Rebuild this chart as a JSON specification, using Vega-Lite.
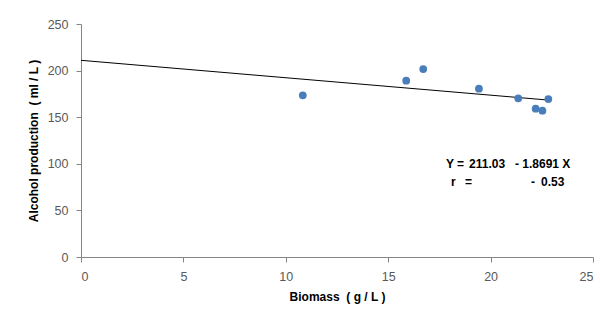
{
  "$schema": "https://vega.github.io/schema/vega-lite/v6.json",
  "width": 512,
  "height": 233,
  "autosize": {"type": "none"},
  "padding": {"left": 81, "top": 24, "right": 7, "bottom": 68},
  "background": "white",
  "config": {
    "view": {"stroke": null},
    "font": "Liberation Sans",
    "axis": {
      "grid": false,
      "domainColor": "#868686",
      "tickColor": "#868686",
      "tickSize": 5,
      "labelColor": "#595959",
      "labelFont": "Liberation Sans",
      "labelFontSize": 12.5,
      "titleFont": "Liberation Sans",
      "titleFontSize": 12,
      "titleFontWeight": "bold",
      "titleColor": "#000000"
    }
  },
  "datasets": {
    "points": [
      {"biomass": 10.83, "alcohol": 173.5},
      {"biomass": 15.88, "alcohol": 189.2},
      {"biomass": 16.71, "alcohol": 201.7},
      {"biomass": 19.43, "alcohol": 180.6},
      {"biomass": 21.35, "alcohol": 170.3},
      {"biomass": 22.2, "alcohol": 159.1},
      {"biomass": 22.53, "alcohol": 157.0},
      {"biomass": 22.82, "alcohol": 169.5}
    ],
    "trend": [
      {"biomass": 0, "alcohol": 211.03},
      {"biomass": 22.85, "alcohol": 168.32}
    ],
    "notes": [
      {"biomass": 17.82, "alcohol": 99.8, "label": "Y ="},
      {"biomass": 18.95, "alcohol": 99.8, "label": "211.03"},
      {"biomass": 21.19, "alcohol": 99.8, "label": "- 1.8691 X"},
      {"biomass": 18.07, "alcohol": 80.2, "label": "r"},
      {"biomass": 18.75, "alcohol": 80.2, "label": "="},
      {"biomass": 21.97, "alcohol": 80.2, "label": "-"},
      {"biomass": 22.46, "alcohol": 80.2, "label": "0.53"}
    ]
  },
  "layer": [
    {
      "data": {"name": "trend"},
      "mark": {"type": "line", "color": "#000000", "strokeWidth": 1},
      "encoding": {
        "x": {
          "field": "biomass", "type": "quantitative",
          "scale": {"domain": [0, 25], "nice": false},
          "axis": {"values": [0, 5, 10, 15, 20, 25], "title": "Biomass \u00a0( g / L )", "labelPadding": 8, "titlePadding": 9}
        },
        "y": {
          "field": "alcohol", "type": "quantitative",
          "scale": {"domain": [0, 250], "nice": false},
          "axis": {"values": [0, 50, 100, 150, 200, 250], "title": "Alcohol production \u00a0( ml / L )", "labelPadding": 8, "titlePadding": 7}
        }
      }
    },
    {
      "data": {"name": "points"},
      "mark": {"type": "circle", "color": "#4a7ebb", "opacity": 1, "size": 60},
      "encoding": {
        "x": {"field": "biomass", "type": "quantitative"},
        "y": {"field": "alcohol", "type": "quantitative"}
      }
    },
    {
      "data": {"name": "notes"},
      "mark": {"type": "text", "align": "left", "baseline": "middle", "fontWeight": "bold", "fontSize": 12, "color": "#000000"},
      "encoding": {
        "x": {"field": "biomass", "type": "quantitative"},
        "y": {"field": "alcohol", "type": "quantitative"},
        "text": {"field": "label"}
      }
    }
  ]
}
